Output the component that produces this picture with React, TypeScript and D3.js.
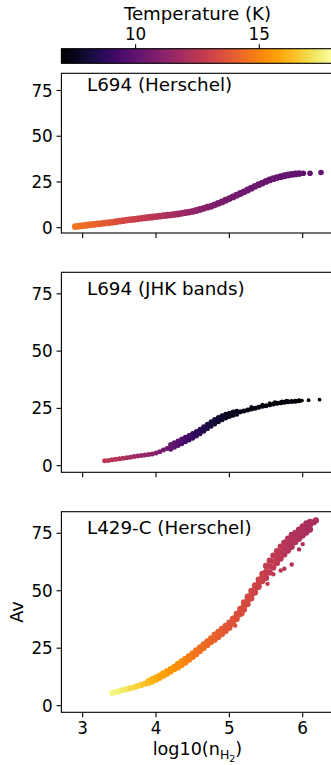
import React from "react";
import * as d3 from "d3";

// ---------- data ----------
const xTicks = [3, 4, 5, 6];
const yTicks = [0, 25, 50, 75];
const cbarTicks = [10, 15];
const tempDomain: [number, number] = [7, 18];
const xDomain: [number, number] = [2.71, 6.42];
const yDomain: [number, number] = [-2.9, 84.4];

// [log10(nH2), Av, T]
const l694Herschel: number[][] = [
  [2.90,0.6,14.6],[2.95,0.85,14.55],[3.00,1.1,14.5],[3.05,1.35,14.4],[3.10,1.6,14.3],[3.15,1.8,14.2],[3.20,2.05,14.1],[3.25,2.25,14.0],[3.30,2.5,13.9],[3.35,2.7,13.8],[3.40,2.95,13.7],[3.45,3.25,13.6],[3.50,3.55,13.45],[3.55,3.85,13.3],[3.60,4.15,13.2],[3.65,4.4,13.1],[3.70,4.6,13.0],[3.75,4.85,12.9],[3.80,5.1,12.8],[3.85,5.35,12.7],[3.90,5.6,12.6],[3.95,5.85,12.5],[4.00,6.1,12.4],[4.05,6.3,12.3],[4.10,6.55,12.2],[4.15,6.8,12.1],[4.20,7.0,12.0],[4.25,7.25,11.9],[4.30,7.5,11.8],[4.35,7.85,11.7],[4.40,8.2,11.6],[4.45,8.55,11.5],[4.50,8.9,11.4],[4.55,9.4,11.3],[4.60,10.0,11.2],[4.65,10.6,11.1],[4.70,11.2,11.0],[4.75,11.7,10.9],[4.80,12.5,10.8],[4.85,13.3,10.75],[4.90,14.1,10.7],[4.95,15.0,10.65],[5.00,15.9,10.6],[5.05,16.8,10.55],[5.10,17.8,10.5],[5.15,18.7,10.45],[5.20,19.6,10.4],[5.25,20.6,10.38],[5.30,21.6,10.35],[5.35,22.6,10.32],[5.40,23.5,10.3],[5.45,24.4,10.28],[5.50,25.3,10.25],[5.55,26.1,10.22],[5.60,26.8,10.2],[5.65,27.4,10.18],[5.70,27.9,10.15],[5.75,28.4,10.12],[5.80,28.8,10.1],[5.85,29.1,10.08],[5.90,29.4,10.05],[5.95,29.6,10.03],
];
const l694HerschelSparse: number[][] = [
  [6.01,29.8,10.0],[6.10,29.8,10.0],[6.25,30.2,10.0],
];

const l694Jhk: number[][] = [
  [3.30,2.1,12.6],[3.35,2.3,12.5],[3.40,2.55,12.4],[3.45,2.8,12.3],[3.50,3.0,12.2],[3.55,3.25,12.1],[3.60,3.5,12.0],[3.65,3.7,11.9],[3.70,3.95,11.8],[3.75,4.2,11.65],[3.80,4.4,11.55],[3.85,4.6,11.45],[3.90,4.85,11.3],[3.95,5.1,11.15],[4.00,5.5,11.0],[4.05,6.1,10.8],[4.10,6.8,10.6],[4.15,7.5,10.4],[4.20,8.2,10.2],[4.25,9.0,10.0],[4.30,9.8,9.8],[4.35,10.6,9.55],[4.40,11.4,9.3],[4.45,12.2,9.1],[4.50,13.0,8.9],[4.55,13.9,8.75],[4.60,14.9,8.6],[4.65,16.0,8.45],[4.70,17.1,8.3],[4.75,18.2,8.15],[4.80,19.2,8.0],[4.85,20.1,7.9],[4.90,20.9,7.8],[4.95,21.6,7.7],[5.00,22.2,7.6],[5.05,22.7,7.55],[5.10,23.1,7.5],[5.15,23.5,7.45],[5.20,23.9,7.4],[5.25,24.3,7.37],[5.30,24.7,7.35],[5.35,25.1,7.32],[5.40,25.5,7.3],[5.45,25.9,7.28],[5.50,26.2,7.25],[5.55,26.6,7.23],[5.60,26.9,7.2],[5.65,27.2,7.2],[5.70,27.5,7.18],[5.75,27.7,7.17],[5.80,27.9,7.15],[5.85,28.0,7.14],[5.90,28.1,7.13],[5.95,28.3,7.12],
  // upper edge of band
  [4.20,9.2,10.2],[4.25,10.0,10.0],[4.30,10.8,9.8],[4.35,11.6,9.55],[4.40,12.4,9.3],[4.45,13.2,9.1],[4.50,14.0,8.9],[4.55,14.9,8.75],[4.60,15.9,8.6],[4.65,17.0,8.45],[4.70,18.1,8.3],[4.75,19.2,8.15],[4.80,20.2,8.0],[4.85,21.0,7.9],[4.90,21.8,7.8],[4.95,22.4,7.7],[5.00,22.9,7.6],[5.05,23.4,7.55],[5.10,23.8,7.5],
  // lower edge of band
  [4.20,7.2,10.2],[4.25,8.0,10.0],[4.30,8.8,9.8],[4.35,9.6,9.55],[4.40,10.4,9.3],[4.45,11.2,9.1],[4.50,12.0,8.9],[4.55,12.9,8.75],[4.60,13.9,8.6],[4.65,15.0,8.45],[4.70,16.1,8.3],[4.75,17.2,8.15],[4.80,18.2,8.0],[4.85,19.2,7.9],[4.90,20.0,7.8],[4.95,20.8,7.7],[5.00,21.5,7.6],[5.05,22.0,7.55],[5.10,22.4,7.5],
];
const l694JhkSparse: number[][] = [
  [5.30,25.6,7.35],[5.45,26.6,7.28],[5.55,27.3,7.23],[5.62,27.7,7.2],[5.72,28.1,7.18],[5.78,28.4,7.16],
  [5.99,28.4,7.1],[6.08,28.6,7.1],[6.23,28.8,7.1],
];

const l429Herschel: number[][] = [
  [3.40,5.5,17.7],[3.45,5.9,17.6],[3.50,6.3,17.5],[3.55,6.8,17.35],[3.60,7.2,17.2],[3.65,7.6,17.05],[3.70,8.0,16.9],[3.75,8.5,16.75],[3.80,9.0,16.6],[3.85,9.6,16.45],[3.90,10.3,16.3],[3.95,11.0,16.15],[4.00,11.8,16.0],[4.05,12.6,15.85],[4.10,13.5,15.7],[4.15,14.4,15.6],[4.20,15.4,15.5],[4.25,16.4,15.4],[4.30,17.4,15.3],[4.35,18.5,15.15],[4.40,19.6,15.0],[4.45,20.8,14.85],[4.50,22.0,14.7],[4.55,23.3,14.6],[4.60,24.6,14.5],[4.65,25.9,14.4],[4.70,27.2,14.3],[4.75,28.5,14.2],[4.80,29.8,14.1],[4.85,31.0,14.0],[4.90,32.3,13.9],[4.95,33.6,13.8],[5.00,35.0,13.7],[5.05,36.8,13.6],[5.10,38.8,13.5],[5.15,41.0,13.45],[5.20,43.4,13.4],[5.25,45.8,13.3],[5.30,48.3,13.2],[5.35,50.8,13.1],[5.40,53.3,13.0],[5.45,55.8,12.9],[5.50,58.2,12.8],[5.55,60.5,12.7],[5.60,62.7,12.6],[5.65,64.7,12.55],[5.70,66.6,12.5],[5.75,68.4,12.4],[5.80,70.1,12.3],[5.85,71.7,12.25],[5.90,73.2,12.2],[5.95,74.6,12.15],[6.00,76.0,12.1],[6.05,77.3,12.05],[6.10,78.6,12.0],[6.15,79.8,12.0],[6.18,80.6,12.0],
  // upper edge of band
  [3.90,10.8,16.3],[3.95,11.5,16.15],[4.00,12.3,16.0],[4.05,13.1,15.85],[4.10,14.0,15.7],[4.15,14.9,15.6],[4.20,15.9,15.5],[4.25,16.9,15.4],[4.30,18.2,15.3],[4.35,19.3,15.15],[4.40,20.4,15.0],[4.45,21.6,14.85],[4.50,22.8,14.7],[4.55,24.1,14.6],[4.60,25.4,14.5],[4.65,26.7,14.4],[4.70,28.0,14.3],[4.75,29.3,14.2],[4.80,30.9,14.1],[4.85,32.1,14.0],[4.90,33.4,13.9],[4.95,34.7,13.8],[5.00,36.1,13.7],[5.05,37.9,13.6],[5.10,39.9,13.5],[5.15,42.1,13.45],[5.20,45.0,13.4],[5.25,47.4,13.3],[5.30,49.9,13.2],[5.35,52.4,13.1],[5.40,54.9,13.0],[5.45,57.4,12.9],[5.50,60.8,12.8],[5.55,63.1,12.7],[5.60,65.3,12.6],[5.65,67.3,12.55],[5.70,69.2,12.5],[5.75,71.0,12.4],[5.80,72.7,12.3],[5.85,74.3,12.25],[5.90,75.2,12.2],[5.95,76.6,12.15],[6.00,78.0,12.1],[6.05,79.3,12.05],[6.10,80.0,12.0],
  // lower edge of band
  [3.90,9.8,16.3],[3.95,10.5,16.15],[4.00,11.3,16.0],[4.05,12.1,15.85],[4.10,13.0,15.7],[4.15,13.9,15.6],[4.20,14.9,15.5],[4.25,15.9,15.4],[4.30,16.6,15.3],[4.35,17.7,15.15],[4.40,18.8,15.0],[4.45,20.0,14.85],[4.50,21.2,14.7],[4.55,22.5,14.6],[4.60,23.8,14.5],[4.65,25.1,14.4],[4.70,26.4,14.3],[4.75,27.7,14.2],[4.80,28.7,14.1],[4.85,29.9,14.0],[4.90,31.2,13.9],[4.95,32.5,13.8],[5.00,33.9,13.7],[5.05,35.7,13.6],[5.10,37.7,13.5],[5.15,39.9,13.45],[5.20,41.8,13.4],[5.25,44.2,13.3],[5.30,46.7,13.2],[5.35,49.2,13.1],[5.40,51.7,13.0],[5.45,54.2,12.9],[5.50,55.6,12.8],[5.55,57.9,12.7],[5.60,60.1,12.6],[5.65,62.1,12.55],[5.70,64.0,12.5],[5.75,65.8,12.4],[5.80,67.5,12.3],[5.85,69.1,12.25],[5.90,71.2,12.2],[5.95,72.6,12.15],[6.00,74.0,12.1],[6.05,75.3,12.05],[6.10,76.6,12.0],
];
const l429HerschelSparse: number[][] = [
  [5.52,53.0,12.75],[5.60,57.2,12.6],[5.70,58.8,12.5],[5.75,59.6,12.4],[5.85,61.4,12.25],[5.95,68.0,12.15],[6.00,70.3,12.1],[5.08,34.8,13.55],[5.18,40.0,13.4],
];

const panelNames = ["L694 (Herschel)", "L694 (JHK bands)", "L429-C (Herschel)"];

// ---------- component ----------
export default function App() {
  const FONT = "DejaVu Sans, sans-serif";
  const left = 61.4;
  const right = 333.5;
  const x = d3.scaleLinear().domain(xDomain).range([left, right]);
  const color = d3.scaleSequential(d3.interpolateInferno).domain(tempDomain);
  const cbar = d3.scaleLinear().domain(tempDomain).range([left, right]);

  const panels = [
    { name: panelNames[0], pts: l694Herschel, sparse: l694HerschelSparse, r: 3.4, rs: 2.8, top: 73.3, bottom: 233, labels: false },
    { name: panelNames[1], pts: l694Jhk, sparse: l694JhkSparse, r: 2.5, rs: 1.9, top: 272.3, bottom: 472.3, labels: false },
    { name: panelNames[2], pts: l429Herschel, sparse: l429HerschelSparse, r: 3.1, rs: 2.2, top: 511.7, bottom: 712.3, labels: true },
  ];

  const stops = d3.range(0, 1.0001, 0.05);
  const cbTop = 48.7;
  const cbBot = 63.3;

  return (
    <svg width={331} height={765} style={{ position: "absolute", left: 0, top: 0 }} fontFamily={FONT}>
      <defs>
        <linearGradient id="inferno" x1="0" x2="1" y1="0" y2="0">
          {stops.map((t, i) => (
            <stop key={i} offset={t} stopColor={d3.interpolateInferno(t)} />
          ))}
        </linearGradient>
      </defs>
      <rect x={0} y={0} width={331} height={765} fill="white" />

      {/* colorbar */}
      <text x={(left + right) / 2} y={19.5} fontSize={18.2} textAnchor="middle">Temperature (K)</text>
      <rect x={left} y={cbTop} width={right - left} height={cbBot - cbTop} fill="url(#inferno)" stroke="black" strokeWidth={1.1} />
      {cbarTicks.map((t) => (
        <g key={t}>
          <line x1={cbar(t)} x2={cbar(t)} y1={cbTop} y2={cbTop - 4.5} stroke="black" strokeWidth={1.1} />
          <text x={cbar(t)} y={39.5} fontSize={16.8} textAnchor="middle">{t}</text>
        </g>
      ))}

      {panels.map((p, pi) => {
        const y = d3.scaleLinear().domain(yDomain).range([p.bottom, p.top]);
        const h = p.bottom - p.top;
        return (
          <g key={pi}>
            <defs>
              <clipPath id={`clip${pi}`}>
                <rect x={left} y={p.top} width={right - left} height={h} />
              </clipPath>
            </defs>
            <g clipPath={`url(#clip${pi})`}>
              {p.pts.map((d, i) => (
                <circle key={i} cx={x(d[0])} cy={y(d[1])} r={p.r} fill={color(d[2])} />
              ))}
              {p.sparse.map((d, i) => (
                <circle key={`s${i}`} cx={x(d[0])} cy={y(d[1])} r={p.rs} fill={color(d[2])} />
              ))}
            </g>
            <rect x={left} y={p.top} width={right - left} height={h} fill="none" stroke="black" strokeWidth={1.1} />
            {yTicks.map((t) => (
              <g key={t}>
                <line x1={left} x2={left - 4.9} y1={y(t)} y2={y(t)} stroke="black" strokeWidth={1.1} />
                <text x={left - 8.6} y={y(t)} dy="0.36em" fontSize={16.8} textAnchor="end">{t}</text>
              </g>
            ))}
            {xTicks.map((t) => (
              <g key={t}>
                <line x1={x(t)} x2={x(t)} y1={p.bottom} y2={p.bottom + 4.9} stroke="black" strokeWidth={1.1} />
                {p.labels && (
                  <text x={x(t)} y={p.bottom + 22} fontSize={16.8} textAnchor="middle">{t}</text>
                )}
              </g>
            ))}
            <text x={87} y={p.bottom - 0.888 * h} fontSize={18.3}>{p.name}</text>
          </g>
        );
      })}

      {/* axis labels */}
      <text x={(left + right) / 2} y={755} fontSize={17.6} textAnchor="middle">
        log10(n
        <tspan fontSize={12.5} dy={4}>H</tspan>
        <tspan fontSize={9.5} dy={2.5}>2</tspan>
        <tspan fontSize={17.6} dy={-6.5}>)</tspan>
      </text>
      <text transform={`translate(23, ${(511.7 + 712.3) / 2}) rotate(-90)`} fontSize={17.6} textAnchor="middle">Av</text>
    </svg>
  );
}
